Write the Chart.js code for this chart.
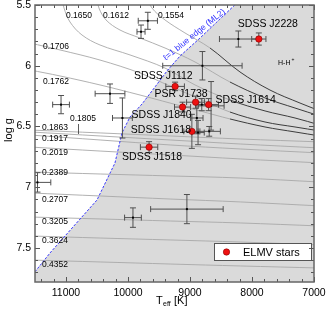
<!DOCTYPE html>
<html>
<head>
<meta charset="utf-8">
<script src="https://cdn.jsdelivr.net/npm/chart.js@4.4.1/dist/chart.umd.min.js"></script>
<style>
  html, body { margin: 0; padding: 0; background: #fff; }
  canvas { display: block; }
</style>
</head>
<body>
<canvas id="chart" width="327" height="314"></canvas>
<script>
const xTicks = [11000, 10000, 9000, 8000, 7000];
const yTicks = [5.5, 6, 6.5, 7, 7.5];

// ELMV stars (red points)
const elmvNames = ['SDSS J1112', 'PSR J1738', 'SDSS J1840', 'SDSS J1614', 'SDSS J1618', 'SDSS J1518', 'SDSS J2228'];
const elmvTeff = [9240, 8910, 9120, 8700, 8970, 9660, 7890];
const elmvLogg = [6.17, 6.30, 6.34, 6.32, 6.54, 6.67, 5.78];
const elmvTeffErr = [150, 145, 130, 160, 130, 140, 115];
const elmvLoggErr = [0.035, 0.05, 0.04, 0.05, 0.14, 0.045, 0.05];

// other ELM white dwarfs (black points)
const wdTeff = [9680, 9790, 10290, 10090, 11080, 11460, 9920, 9050, 8220, 8800, 8810, 8890, 8870, 8690, 8660];
const wdLogg = [5.63, 5.72, 6.23, 6.43, 6.32, 6.96, 7.25, 7.18, 5.78, 6.00, 6.32, 6.43, 6.55, 6.54, 6.33];
const wdTeffErr = [155, 65, 240, 160, 135, 215, 135, 585, 305, 640, 100, 100, 100, 180, 210];
const wdLoggErr = [0.07, 0.055, 0.08, 0.165, 0.075, 0.08, 0.08, 0.12, 0.066, 0.117, 0.05, 0.13, 0.1, 0.04, 0.2];

// l=1 blue edge (ML2)
const edgeTeff = [11580, 11258, 10887, 10500, 10210, 10097, 9968, 9774, 9565, 9371, 9161, 8839, 8516, 8226];
const edgeLogg = [7.747, 7.541, 7.327, 7.105, 6.800, 6.553, 6.422, 6.315, 6.175, 6.043, 5.920, 5.772, 5.615, 5.475];

// evolutionary tracks (stellar mass in Msun)
const trackMasses = ['0.1554', '0.1612', '0.1650', '0.1706', '0.1762', '0.1805', '0.1863', '0.1917', '0.2019', '0.2389', '0.2707', '0.3205', '0.3624', '0.4352'];
const t1554T = [9710, 9613, 9403, 9081, 8677, 8194, 7710, 7226, 6903];
const t1554G = [5.418, 5.525, 5.623, 5.730, 5.854, 6.051, 6.200, 6.307, 6.372];
const t1612T = [10516, 10468, 10355, 10129, 9806, 9403, 8919, 8355, 7790, 7306, 6903];
const t1612G = [5.418, 5.525, 5.623, 5.706, 5.772, 5.854, 5.969, 6.134, 6.265, 6.348, 6.414];
const t1650T = [11081, 11032, 10935, 10742, 10452, 9968, 9403, 8919, 8355, 7790, 7306, 6903];
const t1650G = [5.418, 5.525, 5.640, 5.747, 5.829, 5.911, 6.019, 6.158, 6.282, 6.372, 6.430, 6.488];
const t1706T = [11581, 11097, 10452, 9806, 9323, 8839, 8355, 7790, 7306, 6903];
const t1706G = [5.813, 5.870, 5.953, 6.060, 6.167, 6.274, 6.381, 6.463, 6.504, 6.537];
const t1762T = [11581, 11097, 10452, 9806, 9323, 8839, 8355, 7790, 7306, 6903];
const t1762G = [6.035, 6.084, 6.158, 6.241, 6.307, 6.372, 6.438, 6.504, 6.545, 6.578];
const tLowT = [11580, 10450, 9320, 8190, 6900];
const t1805G = [6.529, 6.553, 6.578, 6.603, 6.627];
const t1863G = [6.545, 6.578, 6.611, 6.644, 6.677];
const t1917G = [6.570, 6.611, 6.652, 6.685, 6.718];
const t2019G = [6.669, 6.702, 6.734, 6.767, 6.800];
const t2389G = [6.874, 6.891, 6.907, 6.924, 6.957];
const t2707G = [7.047, 7.072, 7.097, 7.121, 7.154];
const t3205G = [7.245, 7.261, 7.278, 7.294, 7.319];
const t3624G = [7.401, 7.418, 7.434, 7.451, 7.475];
const t4352G = [7.599, 7.615, 7.632, 7.648, 7.665];

const X_MIN = 7000, X_MAX = 11500, Y_MIN = 5.5, Y_MAX = 7.78;
const FONT = '"Liberation Sans", Arial, Helvetica, sans-serif';

const pts = (xs, ys) => xs.map((x, i) => ({ x: x, y: ys[i] }));

const tracks = [
  [t1554T, t1554G], [t1612T, t1612G], [t1650T, t1650G], [t1706T, t1706G], [t1762T, t1762G],
  [tLowT, t1805G], [tLowT, t1863G], [tLowT, t1917G], [tLowT, t2019G], [tLowT, t2389G],
  [tLowT, t2707G], [tLowT, t3205G], [tLowT, t3624G], [tLowT, t4352G]
];

// label placement (pixels, left edge / vertical centre)
const trackLabelPos = [
  [158, 16], [103, 16], [66, 16], [43, 47], [43, 82], [70, 119], [42, 128], [42, 139],
  [42, 153], [42, 173], [42, 200], [42, 222], [42, 241], [42, 265]
];
// star name offsets from the point (pixels)
const nameOffsets = [[-41, -10], [-41, -8], [-51, 8], [7, -5], [-61, -1.5], [-27, 10], [-21, -15]];

const datasets = [];
datasets.push({
  label: 'ELMV stars', data: pts(elmvTeff, elmvLogg), showLine: false,
  pointRadius: 3.2, pointBackgroundColor: '#ee1111', pointBorderColor: '#8a0000', pointBorderWidth: 0.6
});
datasets.push({
  label: 'ELM WDs', data: pts(wdTeff, wdLogg), showLine: false,
  pointRadius: 1.4, pointStyle: 'rect', pointBackgroundColor: '#000', pointBorderWidth: 0
});
datasets.push({
  label: 'blue edge', data: pts(edgeTeff, edgeLogg), showLine: true, fill: false,
  pointRadius: 0, borderColor: 'rgba(50,50,255,0.95)', borderWidth: 1, borderDash: [2.5, 1.5], tension: 0
});
tracks.forEach((tr, i) => {
  datasets.push({
    label: trackMasses[i], data: pts(tr[0], tr[1]), showLine: true, fill: false,
    pointRadius: 0, borderWidth: 0.9, tension: 0.35, borderColor: '#a8a8a8',
    segment: i < 5 ? { borderColor: c => (c.p0.parsed.x <= 8700 ? '#2a2a2a' : '#a8a8a8') } : undefined
  });
});
datasets.push({
  label: 'unstable region', data: pts(edgeTeff, edgeLogg).concat([{ x: X_MIN - 100, y: edgeLogg[edgeLogg.length - 1] }]),
  showLine: true, pointRadius: 0, borderWidth: 0, tension: 0,
  backgroundColor: '#dadada', fill: 'start'
});

function drawErrorBars(ctx, xs, ys, tv, gv, te, ge) {
  for (let i = 0; i < tv.length; i++) {
    const px = xs.getPixelForValue(tv[i]), py = ys.getPixelForValue(gv[i]);
    const x1 = xs.getPixelForValue(tv[i] - te[i]), x2 = xs.getPixelForValue(tv[i] + te[i]);
    const y1 = ys.getPixelForValue(gv[i] - ge[i]), y2 = ys.getPixelForValue(gv[i] + ge[i]);
    ctx.beginPath();
    ctx.moveTo(x1, py); ctx.lineTo(x2, py);
    ctx.moveTo(x1, py - 3); ctx.lineTo(x1, py + 3);
    ctx.moveTo(x2, py - 3); ctx.lineTo(x2, py + 3);
    ctx.moveTo(px, y1); ctx.lineTo(px, y2);
    ctx.moveTo(px - 3, y1); ctx.lineTo(px + 3, y1);
    ctx.moveTo(px - 3, y2); ctx.lineTo(px + 3, y2);
    ctx.stroke();
  }
}

const decor = {
  id: 'decor',
  beforeDatasetDraw(chart, args) {
    if (args.index !== 1) return;
    const { ctx, chartArea: a, scales: { x, y } } = chart;
    ctx.save();
    ctx.beginPath(); ctx.rect(a.left, a.top, a.width, a.height); ctx.clip();
    ctx.strokeStyle = '#505050';
    ctx.lineWidth = 1;
    drawErrorBars(ctx, x, y, wdTeff, wdLogg, wdTeffErr, wdLoggErr);
    drawErrorBars(ctx, x, y, elmvTeff, elmvLogg, elmvTeffErr, elmvLoggErr);
    ctx.restore();
  },
  afterDatasetsDraw(chart) {
    const { ctx, chartArea: a, scales: { x, y } } = chart;
    ctx.save();
    ctx.fillStyle = '#000';
    ctx.textBaseline = 'middle';
    ctx.textAlign = 'left';

    // track masses
    ctx.font = '8.5px ' + FONT;
    trackMasses.forEach((m, i) => ctx.fillText(m, trackLabelPos[i][0], trackLabelPos[i][1]));
    ctx.strokeStyle = '#333';
    ctx.lineWidth = 0.8;
    ctx.beginPath(); ctx.moveTo(78.5, 124); ctx.lineTo(78.5, 134); ctx.stroke();

    // star names
    ctx.font = '10.5px ' + FONT;
    elmvNames.forEach((n, i) => {
      const px = x.getPixelForValue(elmvTeff[i]), py = y.getPixelForValue(elmvLogg[i]);
      ctx.fillText(n, px + nameOffsets[i][0], py + nameOffsets[i][1]);
    });

    // H-H+
    ctx.font = '7px ' + FONT;
    ctx.fillText('H-H', a.right - 36, a.top + 58);
    ctx.font = '5px ' + FONT;
    ctx.fillText('+', a.right - 22.5, a.top + 55);

    // blue edge label
    ctx.save();
    ctx.translate(x.getPixelForValue(8930), y.getPixelForValue(5.745));
    ctx.rotate(-39 * Math.PI / 180);
    ctx.textAlign = 'center';
    ctx.fillStyle = '#3030ff';
    ctx.font = '8.5px ' + FONT;
    ctx.fillText('\u2113=1 blue edge (ML2)', 0, 0);
    ctx.restore();

    // legend
    const lx = a.right - 100, ly = a.bottom - 39;
    ctx.fillStyle = '#fff';
    ctx.fillRect(lx, ly, 97, 17);
    ctx.strokeStyle = '#555';
    ctx.lineWidth = 1;
    ctx.strokeRect(lx + 0.5, ly + 0.5, 97, 17);
    ctx.beginPath();
    ctx.arc(lx + 12.5, ly + 9, 3.2, 0, Math.PI * 2);
    ctx.fillStyle = '#ee1111'; ctx.fill();
    ctx.strokeStyle = '#8a0000'; ctx.lineWidth = 0.6; ctx.stroke();
    ctx.fillStyle = '#000';
    ctx.font = '11px ' + FONT;
    ctx.fillText('ELMV stars', lx + 29, ly + 9.5);

    // inward ticks on all four sides
    ctx.strokeStyle = '#555';
    ctx.lineWidth = 1;
    ctx.beginPath();
    for (let v = X_MIN; v <= X_MAX - 100; v += 200) {
      const px = Math.round(x.getPixelForValue(v)) + 0.5;
      const len = v % 1000 === 0 ? 5 : 3;
      ctx.moveTo(px, a.bottom); ctx.lineTo(px, a.bottom - len);
      ctx.moveTo(px, a.top); ctx.lineTo(px, a.top + len);
    }
    for (let k = 0; k <= 22; k++) {
      const v = Y_MIN + k * 0.1;
      const py = Math.round(y.getPixelForValue(v)) + 0.5;
      const len = k % 5 === 0 ? 5 : 3;
      ctx.moveTo(a.left, py); ctx.lineTo(a.left + len, py);
      ctx.moveTo(a.right, py); ctx.lineTo(a.right - len, py);
    }
    ctx.stroke();

    // frame
    ctx.strokeStyle = '#666';
    ctx.lineWidth = 1.5;
    ctx.strokeRect(a.left, a.top, a.width, a.height);

    // axis titles
    ctx.fillStyle = '#000';
    ctx.textBaseline = 'alphabetic';
    ctx.font = '11px ' + FONT;
    ctx.fillText('T', 156, 304);
    ctx.font = '7px ' + FONT;
    ctx.fillText('eff', 163, 306);
    ctx.font = '11px ' + FONT;
    ctx.fillText(' [K]', 171, 304);
    ctx.save();
    ctx.translate(12, 130);
    ctx.rotate(-Math.PI / 2);
    ctx.textAlign = 'center';
    ctx.fillText('log g', 0, 0);
    ctx.restore();
    ctx.restore();
  }
};

Chart.defaults.font.family = FONT;
Chart.defaults.color = '#000';

new Chart(document.getElementById('chart'), {
  type: 'line',
  data: { datasets: datasets },
  options: {
    responsive: false,
    animation: false,
    events: [],
    layout: { padding: { left: 0, right: 13, top: 5, bottom: 0 } },
    plugins: { legend: { display: false }, tooltip: { enabled: false } },
    scales: {
      x: {
        type: 'linear', reverse: true, min: X_MIN, max: X_MAX,
        grid: { display: false, drawTicks: false },
        border: { display: false },
        ticks: { padding: 5, font: { size: 10.5 }, color: '#000', maxRotation: 0, autoSkip: false, callback: v => String(v) },
        afterBuildTicks: s => { s.ticks = xTicks.map(v => ({ value: v })); },
        afterFit: s => { s.height = 32; s.paddingLeft = 0; s.paddingRight = 0; }
      },
      y: {
        type: 'linear', reverse: true, min: Y_MIN, max: Y_MAX,
        grid: { display: false, drawTicks: false },
        border: { display: false },
        ticks: { padding: 4, font: { size: 10.5 }, color: '#000', autoSkip: false, callback: v => String(v) },
        afterBuildTicks: s => { s.ticks = yTicks.map(v => ({ value: v })); },
        afterFit: s => { s.height; s.width = 35; s.paddingTop = 0; s.paddingBottom = 0; }
      }
    }
  },
  plugins: [decor]
});
</script>
</body>
</html>
